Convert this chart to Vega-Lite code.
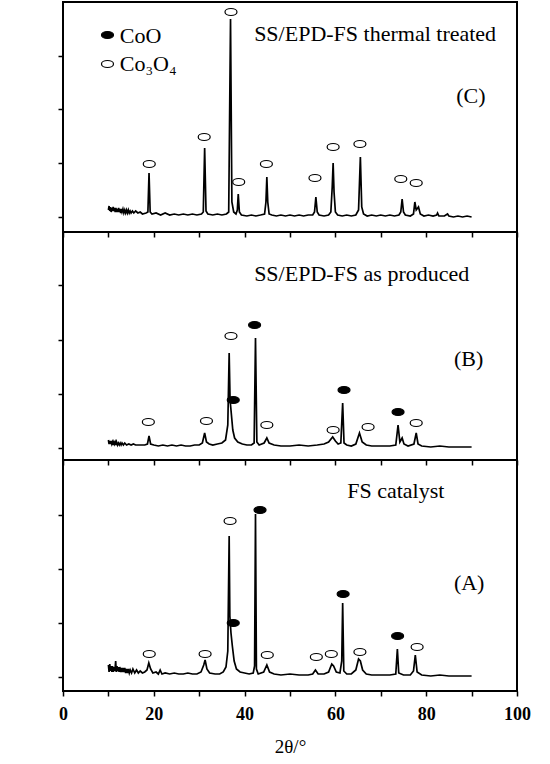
{
  "$schema": "https://vega.github.io/schema/vega-lite/v6.json",
  "padding": {"left": 56, "top": 1, "right": 0, "bottom": 0},
  "background": "white",
  "spacing": 0,
  "bounds": "flush",
  "config": {
    "font": "Liberation Serif",
    "view": {"stroke": "black", "strokeWidth": 2},
    "axis": {
      "domain": false,
      "grid": false,
      "tickColor": "black",
      "tickWidth": 1.5,
      "tickSize": 5,
      "labelFlush": false,
      "labelFont": "Liberation Serif",
      "titleFont": "Liberation Serif",
      "labelColor": "black",
      "titleColor": "black"
    },
    "concat": {"spacing": 0}
  },
  "datasets": {
    "traceC": [
      {"x":10.0,"y":22},{"x":10.15,"y":26},{"x":10.3,"y":21},{"x":10.45,"y":25},{"x":10.6,"y":20},{"x":10.75,"y":24},{"x":10.9,"y":21},{"x":11.05,"y":25},{"x":11.2,"y":21},{"x":11.35,"y":24},{"x":11.5,"y":20},{"x":11.65,"y":24},{"x":11.8,"y":20},{"x":11.95,"y":23},{"x":12.1,"y":20},{"x":12.25,"y":24},{"x":12.4,"y":20},{"x":12.55,"y":23},{"x":12.7,"y":19},{"x":12.85,"y":23},{"x":13.0,"y":20},{"x":13.2,"y":23},{"x":13.4,"y":19},{"x":13.6,"y":22},{"x":13.8,"y":19},{"x":14.0,"y":22},{"x":14.2,"y":19},{"x":14.4,"y":22},{"x":14.6,"y":19},{"x":14.8,"y":21},{"x":15.0,"y":19},{"x":15.3,"y":21},{"x":15.6,"y":19},{"x":16.0,"y":21},{"x":16.5,"y":19},{"x":17.0,"y":20},{"x":17.5,"y":18},{"x":18.3,"y":19},{"x":18.7,"y":20},{"x":18.95,"y":59},{"x":19.2,"y":20},{"x":19.6,"y":18},{"x":20.5,"y":19},{"x":21.5,"y":17},{"x":22.5,"y":19},{"x":23.5,"y":17},{"x":24.5,"y":18},{"x":25.5,"y":17},{"x":26.5,"y":18},{"x":27.5,"y":17},{"x":28.5,"y":18},{"x":29.5,"y":17},{"x":30.5,"y":18},{"x":30.9,"y":20},{"x":31.2,"y":84},{"x":31.5,"y":21},{"x":31.9,"y":18},{"x":33,"y":17},{"x":34,"y":18},{"x":35,"y":17},{"x":36,"y":18},{"x":36.5,"y":20},{"x":36.9,"y":213},{"x":37.2,"y":30},{"x":37.6,"y":20},{"x":38.1,"y":18},{"x":38.4,"y":22},{"x":38.6,"y":38},{"x":38.85,"y":20},{"x":39.3,"y":17},{"x":40.5,"y":16},{"x":41.5,"y":17},{"x":42.5,"y":16},{"x":43.5,"y":17},{"x":44.4,"y":18},{"x":44.7,"y":30},{"x":44.9,"y":55},{"x":45.1,"y":30},{"x":45.4,"y":18},{"x":46,"y":17},{"x":47,"y":16},{"x":48,"y":17},{"x":49,"y":16},{"x":50,"y":17},{"x":51,"y":16},{"x":52,"y":17},{"x":53,"y":16},{"x":54,"y":17},{"x":55,"y":17},{"x":55.4,"y":20},{"x":55.7,"y":35},{"x":56.0,"y":20},{"x":56.4,"y":17},{"x":57.5,"y":16},{"x":58.5,"y":17},{"x":59.0,"y":20},{"x":59.3,"y":45},{"x":59.5,"y":69},{"x":59.7,"y":40},{"x":60.0,"y":20},{"x":60.5,"y":17},{"x":61.5,"y":16},{"x":62.5,"y":17},{"x":63.5,"y":16},{"x":64.5,"y":17},{"x":65.1,"y":22},{"x":65.5,"y":75},{"x":65.8,"y":25},{"x":66.2,"y":18},{"x":67,"y":16},{"x":68,"y":17},{"x":69,"y":16},{"x":70,"y":17},{"x":71,"y":16},{"x":72,"y":17},{"x":73,"y":16},{"x":74,"y":17},{"x":74.4,"y":20},{"x":74.7,"y":33},{"x":75.0,"y":20},{"x":75.4,"y":17},{"x":76.5,"y":16},{"x":77.2,"y":18},{"x":77.5,"y":30},{"x":77.8,"y":22},{"x":78.3,"y":25},{"x":78.7,"y":18},{"x":79.5,"y":16},{"x":80.5,"y":17},{"x":81.5,"y":16},{"x":82.3,"y":17},{"x":82.5,"y":19},{"x":82.8,"y":16},{"x":84,"y":16},{"x":84.7,"y":18},{"x":85.0,"y":16},{"x":86,"y":15},{"x":87,"y":16},{"x":88,"y":15},{"x":89,"y":16},{"x":90,"y":15}
    ],
    "traceB": [
      {"x":10.0,"y":20},{"x":10.15,"y":16},{"x":10.3,"y":19},{"x":10.45,"y":16},{"x":10.6,"y":19},{"x":10.75,"y":16},{"x":10.9,"y":18},{"x":11.05,"y":15},{"x":11.2,"y":18},{"x":11.35,"y":16},{"x":11.5,"y":18},{"x":11.65,"y":15},{"x":11.8,"y":18},{"x":12.0,"y":15},{"x":12.2,"y":17},{"x":12.4,"y":15},{"x":12.6,"y":17},{"x":12.8,"y":15},{"x":13.0,"y":17},{"x":13.3,"y":15},{"x":13.6,"y":17},{"x":14,"y":15},{"x":14.5,"y":16},{"x":15,"y":15},{"x":15.5,"y":16},{"x":16,"y":15},{"x":17,"y":15},{"x":18,"y":15},{"x":18.6,"y":16},{"x":18.95,"y":24},{"x":19.3,"y":16},{"x":20,"y":15},{"x":21,"y":14},{"x":22,"y":15},{"x":23,"y":14},{"x":24,"y":15},{"x":25,"y":14},{"x":26,"y":15},{"x":27,"y":14},{"x":28,"y":14},{"x":29,"y":15},{"x":30,"y":15},{"x":30.7,"y":17},{"x":31.2,"y":27},{"x":31.6,"y":18},{"x":32.2,"y":16},{"x":33,"y":15},{"x":34,"y":16},{"x":35,"y":17},{"x":35.8,"y":20},{"x":36.3,"y":35},{"x":36.6,"y":107},{"x":36.8,"y":60},{"x":37.1,"y":45},{"x":37.4,"y":30},{"x":37.8,"y":22},{"x":38.5,"y":18},{"x":39.5,"y":16},{"x":40.5,"y":15},{"x":41.5,"y":15},{"x":42.1,"y":17},{"x":42.4,"y":122},{"x":42.7,"y":18},{"x":43.2,"y":15},{"x":44.3,"y":17},{"x":44.9,"y":22},{"x":45.4,"y":17},{"x":46.5,"y":15},{"x":48,"y":14},{"x":50,"y":14},{"x":52,"y":15},{"x":54,"y":14},{"x":56,"y":15},{"x":57.5,"y":16},{"x":58.5,"y":18},{"x":59.4,"y":23},{"x":60.0,"y":19},{"x":60.6,"y":16},{"x":61.2,"y":17},{"x":61.6,"y":57},{"x":61.9,"y":17},{"x":62.5,"y":15},{"x":63.5,"y":14},{"x":64.5,"y":16},{"x":65.3,"y":27},{"x":65.9,"y":18},{"x":66.8,"y":15},{"x":68,"y":14},{"x":70,"y":14},{"x":72,"y":14},{"x":73.3,"y":15},{"x":73.8,"y":35},{"x":74.2,"y":18},{"x":74.7,"y":22},{"x":75.1,"y":16},{"x":76,"y":14},{"x":77.3,"y":16},{"x":77.8,"y":27},{"x":78.2,"y":16},{"x":79,"y":14},{"x":81,"y":13},{"x":83,"y":14},{"x":85,"y":13},{"x":87,"y":13},{"x":90,"y":13}
    ],
    "traceA": [
      {"x":10.0,"y":26},{"x":10.15,"y":19},{"x":10.3,"y":27},{"x":10.45,"y":20},{"x":10.6,"y":25},{"x":10.75,"y":19},{"x":10.9,"y":25},{"x":11.05,"y":19},{"x":11.2,"y":24},{"x":11.35,"y":20},{"x":11.5,"y":24},{"x":11.6,"y":30},{"x":11.75,"y":19},{"x":11.9,"y":25},{"x":12.05,"y":20},{"x":12.2,"y":24},{"x":12.35,"y":19},{"x":12.5,"y":24},{"x":12.7,"y":19},{"x":12.85,"y":23},{"x":13.0,"y":19},{"x":13.2,"y":23},{"x":13.4,"y":19},{"x":13.6,"y":23},{"x":13.8,"y":18},{"x":14.0,"y":22},{"x":14.2,"y":18},{"x":14.4,"y":22},{"x":14.6,"y":18},{"x":14.8,"y":21},{"x":15.1,"y":18},{"x":15.4,"y":22},{"x":15.8,"y":18},{"x":16.2,"y":21},{"x":16.6,"y":18},{"x":17.0,"y":20},{"x":17.5,"y":18},{"x":18.0,"y":19},{"x":18.5,"y":21},{"x":18.9,"y":28},{"x":19.3,"y":22},{"x":19.8,"y":18},{"x":20.5,"y":19},{"x":21.0,"y":17},{"x":21.4,"y":21},{"x":21.8,"y":17},{"x":22.5,"y":18},{"x":23.5,"y":17},{"x":24.5,"y":18},{"x":25.5,"y":17},{"x":26.5,"y":17},{"x":27.5,"y":18},{"x":28.5,"y":17},{"x":29.5,"y":17},{"x":30.4,"y":19},{"x":31.0,"y":26},{"x":31.3,"y":31},{"x":31.7,"y":22},{"x":32.3,"y":18},{"x":33.5,"y":17},{"x":34.5,"y":17},{"x":35.3,"y":19},{"x":35.9,"y":24},{"x":36.3,"y":40},{"x":36.6,"y":155},{"x":36.75,"y":75},{"x":37.0,"y":58},{"x":37.3,"y":45},{"x":37.7,"y":30},{"x":38.2,"y":22},{"x":39,"y":19},{"x":40,"y":18},{"x":41,"y":17},{"x":41.9,"y":18},{"x":42.2,"y":25},{"x":42.4,"y":177},{"x":42.6,"y":22},{"x":43.0,"y":17},{"x":44.2,"y":19},{"x":44.9,"y":26},{"x":45.5,"y":19},{"x":46.5,"y":17},{"x":48,"y":16},{"x":50,"y":17},{"x":52,"y":16},{"x":54,"y":16},{"x":55.0,"y":17},{"x":55.6,"y":21},{"x":56.2,"y":17},{"x":57.5,"y":17},{"x":58.5,"y":19},{"x":59.2,"y":27},{"x":59.6,"y":25},{"x":60.2,"y":19},{"x":61.0,"y":18},{"x":61.4,"y":30},{"x":61.6,"y":88},{"x":61.85,"y":20},{"x":62.5,"y":17},{"x":63.5,"y":17},{"x":64.5,"y":21},{"x":65.1,"y":32},{"x":65.5,"y":30},{"x":66.0,"y":21},{"x":66.8,"y":17},{"x":68,"y":16},{"x":70,"y":16},{"x":72,"y":16},{"x":73.3,"y":17},{"x":73.65,"y":42},{"x":73.95,"y":18},{"x":75,"y":16},{"x":76.5,"y":16},{"x":77.2,"y":20},{"x":77.6,"y":36},{"x":78.0,"y":19},{"x":79,"y":16},{"x":81,"y":15},{"x":83,"y":16},{"x":85,"y":15},{"x":87,"y":15},{"x":90,"y":15}
    ],
    "markers": [
      {"panel":"C","phase":"Co3O4","x":19.0,"y":68},{"panel":"C","phase":"Co3O4","x":31.1,"y":95},{"panel":"C","phase":"Co3O4","x":37.0,"y":220},{"panel":"C","phase":"Co3O4","x":38.7,"y":50},{"panel":"C","phase":"Co3O4","x":44.8,"y":68},{"panel":"C","phase":"Co3O4","x":55.5,"y":54},{"panel":"C","phase":"Co3O4","x":59.5,"y":85},{"panel":"C","phase":"Co3O4","x":65.4,"y":88},{"panel":"C","phase":"Co3O4","x":74.4,"y":53},{"panel":"C","phase":"Co3O4","x":77.8,"y":49},
      {"panel":"C","phase":"CoO","x":9.8,"y":197},{"panel":"C","phase":"Co3O4","x":9.8,"y":168},
      {"panel":"B","phase":"Co3O4","x":18.8,"y":38},{"panel":"B","phase":"Co3O4","x":31.6,"y":39},{"panel":"B","phase":"Co3O4","x":37.0,"y":124},{"panel":"B","phase":"Co3O4","x":44.9,"y":35},{"panel":"B","phase":"Co3O4","x":59.5,"y":30},{"panel":"B","phase":"Co3O4","x":67.2,"y":33},{"panel":"B","phase":"Co3O4","x":77.8,"y":37},
      {"panel":"B","phase":"CoO","x":42.2,"y":135},{"panel":"B","phase":"CoO","x":37.5,"y":60},{"panel":"B","phase":"CoO","x":61.9,"y":70},{"panel":"B","phase":"CoO","x":73.8,"y":48},
      {"panel":"A","phase":"Co3O4","x":19.0,"y":37},{"panel":"A","phase":"Co3O4","x":31.3,"y":37},{"panel":"A","phase":"Co3O4","x":36.8,"y":170},{"panel":"A","phase":"Co3O4","x":45.0,"y":36},{"panel":"A","phase":"Co3O4","x":55.8,"y":34},{"panel":"A","phase":"Co3O4","x":59.1,"y":37},{"panel":"A","phase":"Co3O4","x":65.4,"y":39},{"panel":"A","phase":"Co3O4","x":78.0,"y":44},
      {"panel":"A","phase":"CoO","x":43.4,"y":181},{"panel":"A","phase":"CoO","x":37.5,"y":68},{"panel":"A","phase":"CoO","x":61.7,"y":97},{"panel":"A","phase":"CoO","x":73.7,"y":55}
    ],
    "labels": [
      {"panel":"C","x":12.5,"y":196,"text":"CoO"},
      {"panel":"C","x":12.5,"y":168,"text":"Co₃O₄"},
      {"panel":"C","x":42.1,"y":198,"text":"SS/EPD-FS thermal treated"},
      {"panel":"C","x":86.6,"y":136,"text":"(C)"},
      {"panel":"B","x":42.1,"y":186,"text":"SS/EPD-FS as produced"},
      {"panel":"B","x":86.1,"y":101,"text":"(B)"},
      {"panel":"A","x":62.6,"y":200,"text":"FS catalyst"},
      {"panel":"A","x":86.1,"y":108,"text":"(A)"}
    ]
  },
  "vconcat": [
    {
      "width": 454,
      "height": 230,
      "layer": [
        {
          "data": {"name": "traceC"},
          "mark": {"type": "line", "color": "black", "strokeWidth": 1.7},
          "encoding": {
            "x": {"field": "x", "type": "quantitative", "scale": {"domain": [0, 100], "nice": false},
              "axis": {"values": [0,10,20,30,40,50,60,70,80,90,100], "labels": false, "title": null}},
            "y": {"field": "y", "type": "quantitative", "scale": {"domain": [0, 230], "nice": false},
              "axis": {"values": [15,42,69,96,123,149,176,203], "labels": false, "title": null}}
          }
        },
        {
          "data": {"name": "markers"},
          "transform": [{"filter": "datum.panel === 'C'"}],
          "mark": {"type": "point", "shape": "M-1,0A1,0.58,0,1,1,1,0A1,0.58,0,1,1,-1,0Z", "size": 144, "filled": true, "opacity": 1, "stroke": "black", "strokeWidth": 1.2},
          "encoding": {
            "x": {"field": "x", "type": "quantitative"},
            "y": {"field": "y", "type": "quantitative"},
            "fill": {"field": "phase", "type": "nominal", "scale": {"domain": ["CoO", "Co3O4"], "range": ["black", "white"]}, "legend": null}
          }
        },
        {
          "data": {"name": "labels"},
          "transform": [{"filter": "datum.panel === 'C'"}],
          "mark": {"type": "text", "align": "left", "baseline": "middle", "font": "Liberation Serif", "fontSize": 22, "color": "black"},
          "encoding": {
            "x": {"field": "x", "type": "quantitative"},
            "y": {"field": "y", "type": "quantitative"},
            "text": {"field": "text"}
          }
        }
      ]
    },
    {
      "width": 454,
      "height": 228,
      "layer": [
        {
          "data": {"name": "traceB"},
          "mark": {"type": "line", "color": "black", "strokeWidth": 1.7},
          "encoding": {
            "x": {"field": "x", "type": "quantitative", "scale": {"domain": [0, 100], "nice": false},
              "axis": {"values": [0,10,20,30,40,50,60,70,80,90,100], "labels": false, "title": null}},
            "y": {"field": "y", "type": "quantitative", "scale": {"domain": [0, 228], "nice": false},
              "axis": {"values": [12,39,66,93,120,147,175,202], "labels": false, "title": null}}
          }
        },
        {
          "data": {"name": "markers"},
          "transform": [{"filter": "datum.panel === 'B'"}],
          "mark": {"type": "point", "shape": "M-1,0A1,0.58,0,1,1,1,0A1,0.58,0,1,1,-1,0Z", "size": 144, "filled": true, "opacity": 1, "stroke": "black", "strokeWidth": 1.2},
          "encoding": {
            "x": {"field": "x", "type": "quantitative"},
            "y": {"field": "y", "type": "quantitative"},
            "fill": {"field": "phase", "type": "nominal", "scale": {"domain": ["CoO", "Co3O4"], "range": ["black", "white"]}, "legend": null}
          }
        },
        {
          "data": {"name": "labels"},
          "transform": [{"filter": "datum.panel === 'B'"}],
          "mark": {"type": "text", "align": "left", "baseline": "middle", "font": "Liberation Serif", "fontSize": 22, "color": "black"},
          "encoding": {
            "x": {"field": "x", "type": "quantitative"},
            "y": {"field": "y", "type": "quantitative"},
            "text": {"field": "text"}
          }
        }
      ]
    },
    {
      "width": 454,
      "height": 231,
      "layer": [
        {
          "data": {"name": "traceA"},
          "mark": {"type": "line", "color": "black", "strokeWidth": 1.7},
          "encoding": {
            "x": {"field": "x", "type": "quantitative", "scale": {"domain": [0, 100], "nice": false},
              "axis": {"values": [0,10,20,30,40,50,60,70,80,90,100], "title": "2θ/°",
                "labelExpr": "datum.value % 20 === 0 ? datum.label : ''",
                "labelFontWeight": "bold", "labelFontSize": 18, "labelPadding": 9,
                "titleFontSize": 19, "titleFontWeight": "normal", "titlePadding": 14}},
            "y": {"field": "y", "type": "quantitative", "scale": {"domain": [0, 231], "nice": false},
              "axis": {"values": [14,41,68,95,122,148,176,203], "labels": false, "title": null}}
          }
        },
        {
          "data": {"name": "markers"},
          "transform": [{"filter": "datum.panel === 'A'"}],
          "mark": {"type": "point", "shape": "M-1,0A1,0.58,0,1,1,1,0A1,0.58,0,1,1,-1,0Z", "size": 144, "filled": true, "opacity": 1, "stroke": "black", "strokeWidth": 1.2},
          "encoding": {
            "x": {"field": "x", "type": "quantitative"},
            "y": {"field": "y", "type": "quantitative"},
            "fill": {"field": "phase", "type": "nominal", "scale": {"domain": ["CoO", "Co3O4"], "range": ["black", "white"]}, "legend": null}
          }
        },
        {
          "data": {"name": "labels"},
          "transform": [{"filter": "datum.panel === 'A'"}],
          "mark": {"type": "text", "align": "left", "baseline": "middle", "font": "Liberation Serif", "fontSize": 22, "color": "black"},
          "encoding": {
            "x": {"field": "x", "type": "quantitative"},
            "y": {"field": "y", "type": "quantitative"},
            "text": {"field": "text"}
          }
        }
      ]
    }
  ]
}
